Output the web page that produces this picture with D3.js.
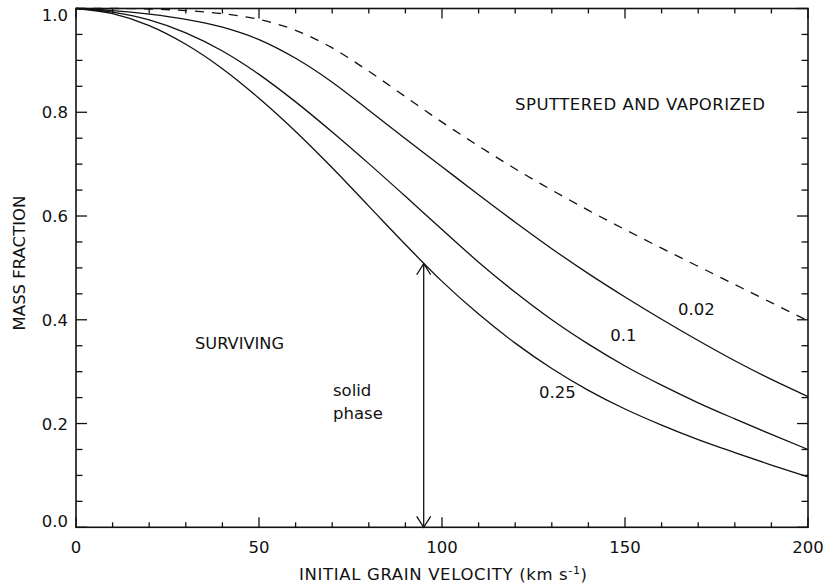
<!DOCTYPE html>
<html>
<head>
<meta charset="utf-8">
<script src="https://cdn.jsdelivr.net/npm/d3@7"></script>
<style>
  html, body { margin: 0; padding: 0; background: #fff; }
  svg text { font-family: "DejaVu Sans", "Liberation Sans", Arial, sans-serif; fill: #111; }
</style>
</head>
<body>
<svg id="chart" width="825" height="585"></svg>
<script>
// ---- data ----
const xTicks = [0, 50, 100, 150, 200];
const yTicks = [0.0, 0.2, 0.4, 0.6, 0.8, 1.0];
const yTickLabels = ["0.0", "0.2", "0.4", "0.6", "0.8", "1.0"];

const velocities = [0, 10, 20, 30, 40, 50, 60, 70, 80, 90, 100, 110, 120, 130, 140, 150, 160, 170, 180, 190, 200];

const dashedF   = [1.0, 1.0, 0.999, 0.996, 0.990, 0.979, 0.958, 0.924, 0.879, 0.830, 0.781, 0.735, 0.691, 0.650, 0.611, 0.574, 0.538, 0.503, 0.468, 0.433, 0.398];
const curve002F = [1.0, 0.996, 0.989, 0.979, 0.964, 0.940, 0.904, 0.858, 0.804, 0.749, 0.695, 0.641, 0.588, 0.537, 0.489, 0.444, 0.401, 0.360, 0.321, 0.285, 0.252];
const curve01F  = [1.0, 0.993, 0.978, 0.953, 0.918, 0.873, 0.820, 0.762, 0.701, 0.638, 0.574, 0.511, 0.453, 0.400, 0.353, 0.311, 0.274, 0.240, 0.209, 0.179, 0.150];
const curve025F = [1.0, 0.990, 0.967, 0.931, 0.884, 0.827, 0.763, 0.693, 0.619, 0.545, 0.474, 0.411, 0.355, 0.306, 0.264, 0.228, 0.197, 0.169, 0.144, 0.120, 0.097];

const curveLabels = ["0.02", "0.1", "0.25"];
const curveLabelV = [164.5, 146, 126.5];
const curveLabelF = [0.41, 0.36, 0.25];

const arrowV = 95;
const arrowTop = 0.508;

// ---- layout ----
const svg = d3.select("#chart");
const mLeft = 76, mRight = 808, mTop = 8.5, mBottom = 527.3;
const x = d3.scaleLinear().domain([0, 200]).range([mLeft, mRight]);
const y = d3.scaleLinear().domain([0, 1]).range([mBottom, mTop]);
const ink = "#111";
const fs = 16.5;

// frame
svg.append("rect").attr("x", mLeft).attr("y", mTop)
  .attr("width", mRight - mLeft).attr("height", mBottom - mTop)
  .attr("fill", "none").attr("stroke", ink).attr("stroke-width", 1.6);

// ticks (all four sides, inward)
const xMinor = d3.range(0, 201, 10);
const yMinor = d3.range(0, 1.0001, 0.05);
const tickG = svg.append("g").attr("stroke", ink).attr("stroke-width", 1.3);
xMinor.forEach(v => {
  const major = Math.abs(v % 50) < 1e-6;
  const len = major ? 10 : 5;
  tickG.append("line").attr("x1", x(v)).attr("x2", x(v)).attr("y1", mBottom).attr("y2", mBottom - len);
  tickG.append("line").attr("x1", x(v)).attr("x2", x(v)).attr("y1", mTop).attr("y2", mTop + len);
});
yMinor.forEach((v, i) => {
  const major = i % 4 === 0;
  const len = major ? 11 : 6.5;
  tickG.append("line").attr("y1", y(v)).attr("y2", y(v)).attr("x1", mLeft).attr("x2", mLeft + len);
  tickG.append("line").attr("y1", y(v)).attr("y2", y(v)).attr("x1", mRight).attr("x2", mRight - len);
});

// tick labels
svg.append("g").selectAll("text").data(xTicks).join("text")
  .attr("x", d => x(d)).attr("y", 553)
  .attr("text-anchor", "middle").attr("font-size", fs)
  .text(d => d);
svg.append("g").selectAll("text").data(yTicks).join("text")
  .attr("x", 68)
  .attr("y", (d, i) => y(d) + 6 + (d === 1 ? 6 : 0) + (d === 0 ? -6 : 0))
  .attr("text-anchor", "end").attr("font-size", fs)
  .text((d, i) => yTickLabels[i]);

// axis titles
const xt = svg.append("text").attr("x", 443).attr("y", 580)
  .attr("text-anchor", "middle").attr("font-size", fs)
  .attr("textLength", 288).attr("lengthAdjust", "spacing");
xt.append("tspan").text("INITIAL GRAIN VELOCITY (km s");
xt.append("tspan").attr("dy", -6).attr("font-size", 11).text("-1");
xt.append("tspan").attr("dy", 6).text(")");

svg.append("text")
  .attr("transform", `translate(25, 263) rotate(-90)`)
  .attr("text-anchor", "middle").attr("font-size", fs)
  .text("MASS FRACTION");

// curves
const line = d3.line().x(d => x(d[0])).y(d => y(d[1])).curve(d3.curveMonotoneX);
const zip = (a, b) => a.map((v, i) => [v, b[i]]);
const plot = svg.append("g").attr("fill", "none").attr("stroke", ink).attr("stroke-width", 1.3);
plot.append("path").attr("d", line(zip(velocities, dashedF))).attr("stroke-dasharray", "9,8");
plot.append("path").attr("d", line(zip(velocities, curve002F)));
plot.append("path").attr("d", line(zip(velocities, curve01F)));
plot.append("path").attr("d", line(zip(velocities, curve025F)));

// curve labels
svg.append("g").selectAll("text").data(curveLabels).join("text")
  .attr("x", (d, i) => x(curveLabelV[i])).attr("y", (d, i) => y(curveLabelF[i]))
  .attr("font-size", fs).text(d => d);

// region labels
svg.append("text").attr("x", 515).attr("y", 110).attr("font-size", fs)
  .attr("textLength", 250).attr("lengthAdjust", "spacing")
  .text("SPUTTERED AND VAPORIZED");
svg.append("text").attr("x", 195).attr("y", 348.5).attr("font-size", fs)
  .attr("textLength", 89).attr("lengthAdjust", "spacingAndGlyphs")
  .text("SURVIVING");
svg.append("text").attr("x", 333).attr("y", 395.5).attr("font-size", fs).text("solid");
svg.append("text").attr("x", 333).attr("y", 419).attr("font-size", fs).text("phase");

// double arrow
const ax = x(arrowV), ay1 = y(arrowTop), ay2 = y(0);
const ag = svg.append("g").attr("stroke", ink).attr("stroke-width", 1.3).attr("fill", "none");
ag.append("line").attr("x1", ax).attr("x2", ax).attr("y1", ay1).attr("y2", ay2);
ag.append("path").attr("d", `M${ax - 7},${ay1 + 11} L${ax},${ay1} L${ax + 7},${ay1 + 11}`);
ag.append("path").attr("d", `M${ax - 7},${ay2 - 11} L${ax},${ay2} L${ax + 7},${ay2 - 11}`);
</script>
</body>
</html>
